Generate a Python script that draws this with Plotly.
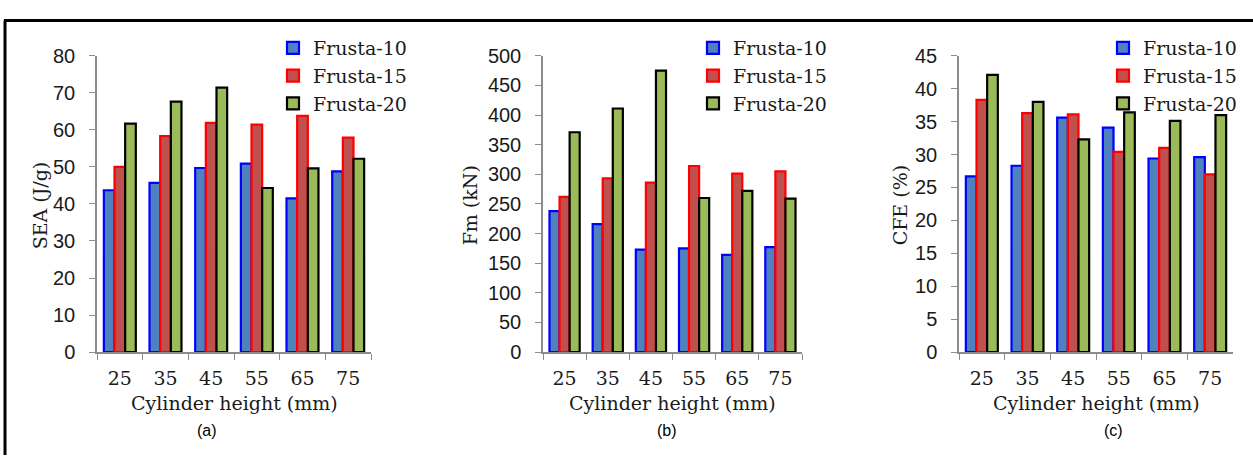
import plotly.graph_objects as go

heights = ["25", "35", "45", "55", "65", "75"]
series_names = ["Frusta-10", "Frusta-15", "Frusta-20"]

sea_f10 = [43.7, 45.7, 49.7, 50.9, 41.5, 48.8]
sea_f15 = [50.0, 58.3, 61.9, 61.4, 63.8, 57.9]
sea_f20 = [61.7, 67.6, 71.4, 44.3, 49.6, 52.2]

fm_f10 = [238, 216, 173, 175, 164, 177]
fm_f15 = [262, 293, 286, 314, 301, 305]
fm_f20 = [371, 411, 475, 260, 272, 259]

cfe_f10 = [26.7, 28.3, 35.6, 34.1, 29.4, 29.6]
cfe_f15 = [38.3, 36.3, 36.1, 30.4, 31.0, 27.0]
cfe_f20 = [42.1, 38.0, 32.3, 36.4, 35.1, 36.0]

fills = ["#4F81BD", "#C0504D", "#9BBB59"]
lines = ["#0000FF", "#FF0000", "#000000"]

W, H = 1253, 466
panels = [
    dict(data=[sea_f10, sea_f15, sea_f20], ytitle="SEA (J/g)", yrange=[0, 80], dtick=10,
         xd=(97, 371), ytx=40, leg_x=273, label="(a)", label_x=207),
    dict(data=[fm_f10, fm_f15, fm_f20], ytitle="Fm (kN)", yrange=[0, 500], dtick=50,
         xd=(543, 802), ytx=470, leg_x=693, label="(b)", label_x=667),
    dict(data=[cfe_f10, cfe_f15, cfe_f20], ytitle="CFE (%)", yrange=[0, 45], dtick=5,
         xd=(959, 1233), ytx=900, leg_x=1103, label="(c)", label_x=1113),
]

y_top, y_bot = 47, 358
ydom = [1 - y_bot / H, 1 - y_top / H]

fig = go.Figure()
annotations = []
serif = "DejaVu Serif"
sans = "Liberation Sans, Arial"

for i, p in enumerate(panels):
    sfx = "" if i == 0 else str(i + 1)
    leg = "legend" if i == 0 else f"legend{i + 1}"
    for j, name in enumerate(series_names):
        fig.add_trace(go.Bar(
            x=heights, y=p["data"][j], name=name,
            marker=dict(color=fills[j], line=dict(color=lines[j], width=2.2)),
            xaxis="x" + sfx, yaxis="y" + sfx, legend=leg,
        ))
    xd = [p["xd"][0] / W, p["xd"][1] / W]
    fig.update_layout(**{
        "xaxis" + sfx: dict(
            domain=xd, anchor="y" + sfx, type="category",
            showline=True, linecolor="#8C8C8C", linewidth=1.5,
            ticks="outside", tickson="boundaries", ticklen=6, tickcolor="#8C8C8C",
            tickfont=dict(family=serif, size=19, color="#1a1a1a"),
            showgrid=False, zeroline=False, fixedrange=True, ticklabelstandoff=8,
        ),
        "yaxis" + sfx: dict(
            domain=ydom, anchor="x" + sfx, range=p["yrange"], dtick=p["dtick"],
            showline=True, linecolor="#8C8C8C", linewidth=1.5,
            ticks="outside", ticklen=6, tickcolor="#8C8C8C",
            tickfont=dict(family=sans, size=20, color="#1a1a1a"),
            showgrid=False, zeroline=False, ticklabelstandoff=10,
        ),
        leg: dict(
            x=p["leg_x"] / W, xanchor="left", y=1 - 19 / H, yanchor="top",
            bgcolor="rgba(0,0,0,0)", font=dict(family=serif, size=19, color="#1a1a1a"),
            tracegroupgap=0, itemclick=False,
        ),
    })
    xc = (p["xd"][0] + p["xd"][1]) / 2 / W
    annotations.append(dict(
        text="Cylinder height (mm)", x=xc, y=1 - 411 / H, xref="paper", yref="paper",
        showarrow=False, xanchor="center", yanchor="middle",
        font=dict(family=serif, size=19, color="#1a1a1a"),
    ))
    annotations.append(dict(
        text=p["ytitle"], x=p["ytx"] / W, y=1 - 204 / H, xref="paper", yref="paper",
        showarrow=False, xanchor="center", yanchor="middle", textangle=-90,
        font=dict(family=serif, size=19, color="#1a1a1a"),
    ))
    annotations.append(dict(
        text=p["label"], x=p["label_x"] / W, y=1 - 440 / H, xref="paper", yref="paper",
        showarrow=False, xanchor="center", yanchor="middle",
        font=dict(family=sans, size=16, color="#000"),
    ))

shapes = [
    dict(type="line", xref="paper", yref="paper", x0=4 / W, x1=1, y0=1 - 10 / H, y1=1 - 10 / H,
         line=dict(color="black", width=3)),
    dict(type="line", xref="paper", yref="paper", x0=5 / W, x1=5 / W, y0=0, y1=1 - 10 / H,
         line=dict(color="black", width=3)),
]

fig.update_layout(
    width=W, height=H, margin=dict(l=0, r=0, t=0, b=0),
    paper_bgcolor="white", plot_bgcolor="white",
    barmode="group", bargap=0.3, bargroupgap=0,
    annotations=annotations, showlegend=True, shapes=shapes,
)

fig.write_html("out.html")
